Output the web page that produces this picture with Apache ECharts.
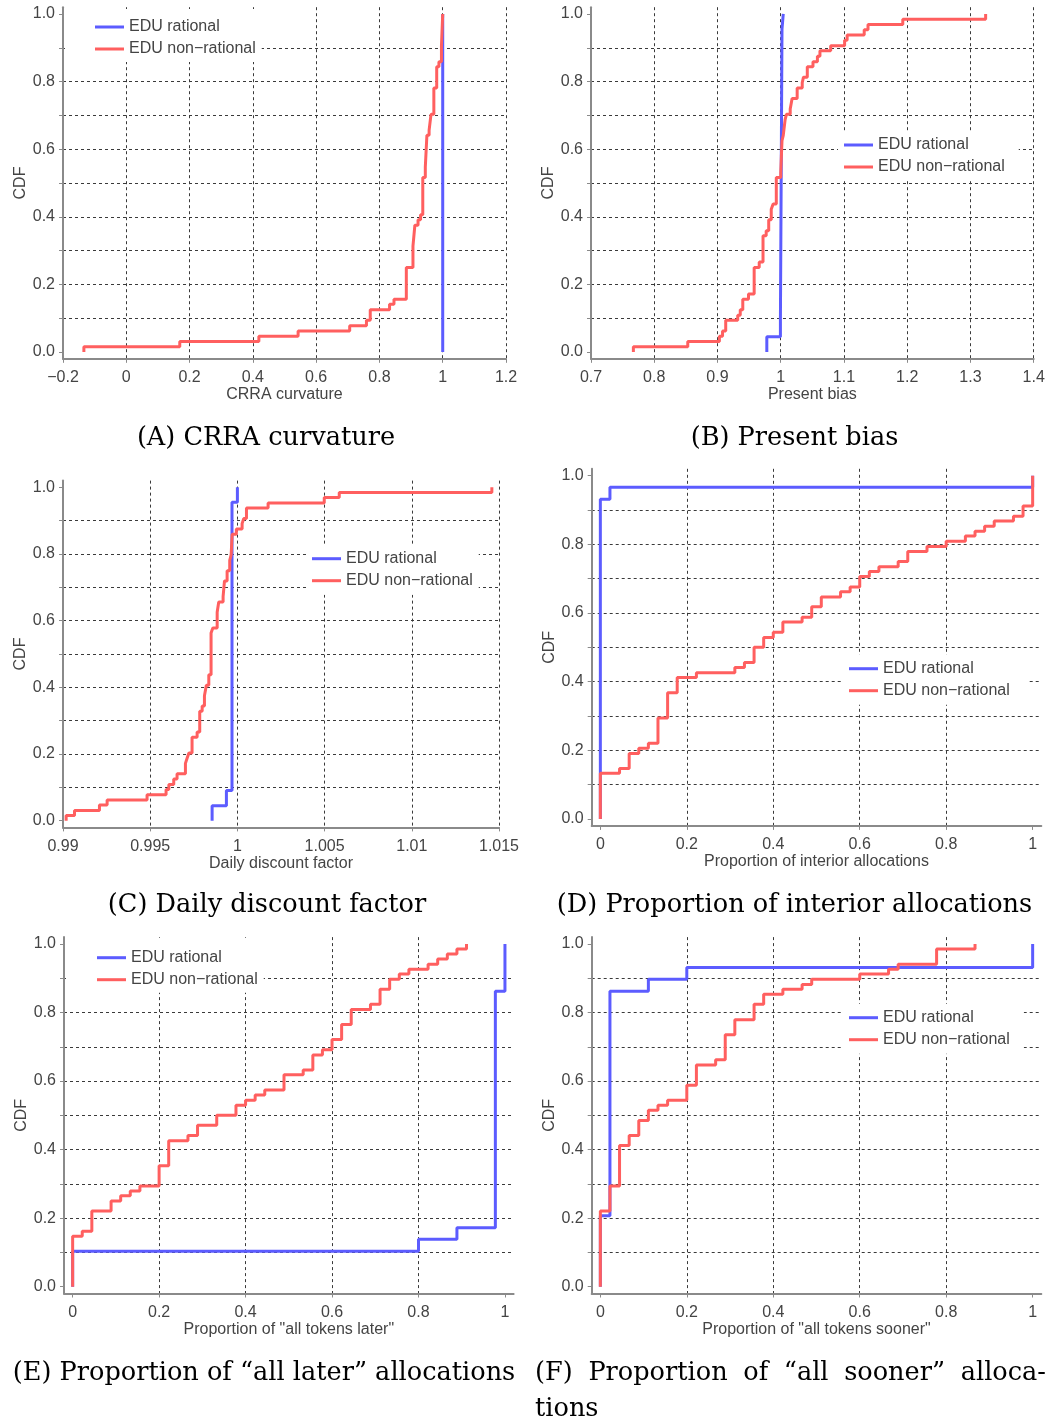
<!DOCTYPE html>
<html><head><meta charset="utf-8">
<script src="https://cdn.jsdelivr.net/npm/echarts@6/dist/echarts.min.js"></script>
<style>html,body{margin:0;padding:0;background:#fff}#c{width:1054px;height:1422px}</style>
</head><body><div id="c"></div>
<script>
// ---------------- DATA (ECDF jump points: [x, CDF after jump]) ----------------
const seriesNames = ['EDU rational', 'EDU non\u2212rational'];
const panelCaptions = ['(A) CRRA curvature', '(B) Present bias', '(C) Daily discount factor',
  '(D) Proportion of interior allocations', '(E) Proportion of \u201call later\u201d allocations'];
const captionF = ['(F)', 'Proportion', 'of', '\u201call', 'sooner\u201d', 'alloca-'];
const captionFTail = 'tions';
const xAxisNames = ['CRRA curvature', 'Present bias', 'Daily discount factor',
  'Proportion of interior allocations', 'Proportion of "all tokens later"', 'Proportion of "all tokens sooner"'];
const yLabelValues = [0, 0.2, 0.4, 0.6, 0.8, 1.0];
const yTickValues = [0, 0.1, 0.2, 0.3, 0.4, 0.5, 0.6, 0.7, 0.8, 0.9, 1.0];
const propLabelValues = [0, 0.2, 0.4, 0.6, 0.8, 1];

const crraRational = [[1.0, 1.0]];
const crraNonRational = [[-0.134,0.016],[0.169,0.031],[0.419,0.047],[0.543,0.062],[0.706,0.078],[0.759,0.094],
  [0.771,0.125],[0.832,0.141],[0.846,0.156],[0.885,0.250],[0.906,0.313],[0.912,0.375],[0.922,0.391],[0.930,0.406],
  [0.937,0.516],[0.945,0.547],[0.950,0.641],[0.957,0.656],[0.963,0.703],[0.972,0.781],[0.981,0.844],[0.988,0.859],
  [0.996,0.906],[1.0,1.0]];

const biasRational = [[0.978,0.045],[0.9995,0.091],[1.002,0.955],[1.004,1.0]];
const biasNonRational = [[0.767,0.016],[0.853,0.031],[0.903,0.047],[0.908,0.062],[0.913,0.094],[0.932,0.109],
  [0.936,0.125],[0.940,0.156],[0.949,0.172],[0.958,0.250],[0.966,0.266],[0.972,0.344],[0.977,0.359],[0.981,0.391],
  [0.985,0.422],[0.988,0.438],[0.993,0.516],[1.000,0.531],[1.002,0.625],[1.004,0.641],[1.007,0.688],[1.009,0.703],
  [1.015,0.719],[1.018,0.750],[1.026,0.781],[1.034,0.797],[1.036,0.813],[1.042,0.844],[1.051,0.859],[1.058,0.875],
  [1.062,0.891],[1.079,0.906],[1.101,0.922],[1.105,0.938],[1.132,0.953],[1.138,0.969],[1.193,0.984],[1.324,1.0]];

const discountRational = [[0.99855,0.045],[0.99937,0.091],[0.99969,0.955],[1.0,1.0]];
const discountNonRational = [[0.99018,0.016],[0.99066,0.031],[0.99209,0.047],[0.99253,0.062],[0.99482,0.078],
  [0.99591,0.094],[0.99607,0.109],[0.99635,0.125],[0.99654,0.141],[0.99702,0.172],[0.99712,0.188],[0.99722,0.203],
  [0.99740,0.250],[0.99769,0.266],[0.99784,0.328],[0.99798,0.344],[0.99811,0.375],[0.99822,0.406],[0.99836,0.438],
  [0.99849,0.563],[0.99859,0.578],[0.99884,0.625],[0.99893,0.656],[0.99918,0.672],[0.99926,0.719],[0.99941,0.750],
  [0.99956,0.781],[0.99964,0.797],[0.99970,0.859],[0.99994,0.875],[1.00027,0.891],[1.00036,0.906],[1.00052,0.938],
  [1.00176,0.953],[1.00498,0.969],[1.00584,0.984],[1.01459,1.0]];

const interiorRational = [[0,0.931],[0.0222,0.966],[1.0,1.0]];
const interiorNonRational = [[0,0.133],[0.0444,0.147],[0.0667,0.191],[0.0889,0.206],[0.1111,0.221],[0.1333,0.294],
  [0.1556,0.368],[0.1778,0.412],[0.2222,0.426],[0.3111,0.441],[0.3333,0.456],[0.3556,0.500],[0.3778,0.529],[0.4,0.544],
  [0.4222,0.574],[0.4667,0.588],[0.4889,0.618],[0.5111,0.647],[0.5556,0.662],[0.5778,0.676],[0.6,0.706],[0.6222,0.721],
  [0.6444,0.735],[0.6889,0.750],[0.7111,0.779],[0.7556,0.794],[0.8,0.809],[0.8444,0.824],[0.8667,0.838],[0.8889,0.853],
  [0.9111,0.868],[0.9556,0.882],[0.9778,0.912],[1.0,1.0]];

const laterRational = [[0,0.103],[0.8,0.138],[0.8889,0.172],[0.9778,0.862],[1.0,1.0]];
const laterNonRational = [[0,0.147],[0.0222,0.162],[0.0444,0.221],[0.0889,0.250],[0.1111,0.265],[0.1333,0.279],
  [0.1556,0.294],[0.2,0.353],[0.2222,0.426],[0.2667,0.441],[0.2889,0.471],[0.3333,0.5],[0.3778,0.529],[0.4,0.544],
  [0.4222,0.559],[0.4444,0.574],[0.4889,0.618],[0.5333,0.632],[0.5556,0.676],[0.5778,0.691],[0.6,0.721],[0.6222,0.765],
  [0.6444,0.809],[0.6889,0.824],[0.7111,0.868],[0.7333,0.897],[0.7556,0.912],[0.7778,0.926],[0.8222,0.941],
  [0.8444,0.956],[0.8667,0.971],[0.8889,0.985],[0.9111,1.0]];

const soonerRational = [[0,0.207],[0.0222,0.862],[0.1111,0.897],[0.2,0.931],[1.0,1.0]];
const soonerNonRational = [[0,0.221],[0.0222,0.294],[0.0444,0.412],[0.0667,0.441],[0.0889,0.485],[0.1111,0.515],
  [0.1333,0.529],[0.1556,0.544],[0.2,0.588],[0.2222,0.647],[0.2667,0.662],[0.2889,0.735],[0.3111,0.779],[0.3556,0.824],
  [0.3778,0.853],[0.4222,0.868],[0.4667,0.882],[0.4889,0.897],[0.6,0.912],[0.6667,0.926],[0.6889,0.941],[0.7778,0.985],
  [0.8667,1.0]];

// ---------------- LAYOUT / STYLE ----------------
const SANS = '"Liberation Sans", Arial, sans-serif';
const SERIF = '"DejaVu Serif", serif';
const BLUE = '#5c5cff', RED = '#ff5f5f';
const AXIS_COLOR = '#8a8a8a', TEXT_COLOR = '#444', GRID_COLOR = '#3a3a3a';

const panels = [
  {grid:{left:63, top:7.2, width:443, height:351.6}, x:{min:-0.2,max:1.2,interval:0.2,dec:1,minus:true},
   data:[crraRational, crraNonRational], legend:{left:65, top:9, padding:[10,6,5,30]}},
  {grid:{left:591, top:7.2, width:442.7, height:351.6}, x:{min:0.7,max:1.4,interval:0.1,dec:1},
   data:[biasRational, biasNonRational], legend:{left:838, top:131, padding:[6,14,6,6]}},
  {grid:{left:63, top:480.6, width:436, height:346.8}, x:{min:0.99,max:1.015,interval:0.005,dec:3},
   data:[discountRational, discountNonRational], legend:{left:306, top:544.7, padding:[6,6,6,6]}},
  {grid:{left:591.7, top:468.8, width:449.6, height:357.1}, x:{min:-0.02,max:1.02,prop:true,dec:1},
   data:[interiorRational, interiorNonRational], legend:{left:843, top:654.7, padding:[6,18,6,6]}},
  {grid:{left:64, top:937.1, width:449.6, height:356.4}, x:{min:-0.02,max:1.02,prop:true,dec:1},
   data:[laterRational, laterNonRational], legend:{left:66, top:937.7, padding:[12,6,5,31]}},
  {grid:{left:591.7, top:937.1, width:449.6, height:356.4}, x:{min:-0.02,max:1.02,prop:true,dec:1},
   data:[soonerRational, soonerNonRational], legend:{left:843, top:1003.7, padding:[6,14,6,6]}}
];

function ecdfLine(points) {
  return [[points[0][0], 0]].concat(points);
}

const grids = [], xAxes = [], yAxes = [], series = [], legends = [];
const dash = {color: GRID_COLOR, width: 1, type: [3, 3]};
const labelStyle = {color: TEXT_COLOR, fontSize: 16, fontFamily: SANS};

panels.forEach((p, i) => {
  grids.push(Object.assign({outerBoundsMode: 'none', containLabel: false}, p.grid));
  const xs = p.x;
  const xa = {
    type: 'value', gridIndex: i, min: xs.min, max: xs.max,
    axisLine: {show: true, onZero: false, lineStyle: {color: AXIS_COLOR, width: 2}},
    axisTick: {show: true, inside: false, length: 4, lineStyle: {color: AXIS_COLOR, width: 1}},
    axisLabel: Object.assign({margin: 11, formatter: v => {
      let s = String(+(+v).toFixed(xs.dec));
      return xs.minus ? s.replace('-', '\u2212') : s;
    }}, labelStyle),
    splitLine: {show: true, showMinLine: false, showMaxLine: !xs.prop, lineStyle: dash},
    name: xAxisNames[i], nameLocation: 'middle', nameGap: 26,
    nameTextStyle: {color: TEXT_COLOR, fontSize: 16, fontFamily: SANS}
  };
  if (xs.prop) {
    xa.splitNumber = 5;
    xa.axisLabel.customValues = propLabelValues;
    xa.axisTick.customValues = propLabelValues;
  } else {
    xa.interval = xs.interval;
  }
  xAxes.push(xa);
  yAxes.push({
    type: 'value', gridIndex: i, min: -0.02, max: 1.02, splitNumber: 10,
    axisLine: {show: true, onZero: false, lineStyle: {color: AXIS_COLOR, width: 2}},
    axisTick: {show: true, inside: false, length: 4, customValues: yTickValues, lineStyle: {color: AXIS_COLOR, width: 1}},
    axisLabel: Object.assign({margin: 8, customValues: yLabelValues, formatter: v => (+v).toFixed(1)}, labelStyle),
    splitLine: {show: true, showMinLine: false, showMaxLine: false, lineStyle: dash},
    name: 'CDF', nameLocation: 'middle', nameGap: 34,
    nameTextStyle: {color: TEXT_COLOR, fontSize: 16, fontFamily: SANS}
  });
  [BLUE, RED].forEach((col, k) => {
    series.push({
      type: 'line', name: seriesNames[k], xAxisIndex: i, yAxisIndex: i,
      data: ecdfLine(p.data[k]), step: 'end', symbol: 'none', showSymbol: false,
      lineStyle: {color: col, width: 3}, itemStyle: {color: col},
      silent: true, z: 3 + k, clip: false
    });
  });
  legends.push({
    show: true, left: p.legend.left, top: p.legend.top, padding: p.legend.padding,
    orient: 'vertical', icon: 'rect', itemWidth: 29, itemHeight: 3, itemGap: 6,
    backgroundColor: '#fff', selectedMode: false, data: seriesNames,
    textStyle: {fontSize: 16, color: TEXT_COLOR, fontFamily: SANS}, z: 10
  });
});

// captions
const capFont = '25.6px ' + SERIF;
const capPos = [[266, 438], [794.5, 438], [267, 905], [794.5, 905], [264, 1373]];
const graphics = panelCaptions.map((t, i) => ({
  type: 'text', x: capPos[i][0], y: capPos[i][1], silent: true,
  style: {text: t, font: capFont, fill: '#000', align: 'center', verticalAlign: 'middle'}
}));
// justified line for caption (F)
const mctx = document.createElement('canvas').getContext('2d');
mctx.font = capFont;
const fL = 535, fR = 1046;
const widths = captionF.map(w => mctx.measureText(w).width);
const totalW = widths.reduce((a, b) => a + b, 0);
const gap = (fR - fL - totalW) / (captionF.length - 1);
let cx = fL;
captionF.forEach((w, i) => {
  graphics.push({type: 'text', x: cx, y: 1373, silent: true,
    style: {text: w, font: capFont, fill: '#000', align: 'left', verticalAlign: 'middle'}});
  cx += widths[i] + gap;
});
graphics.push({type: 'text', x: fL, y: 1409, silent: true,
  style: {text: captionFTail, font: capFont, fill: '#000', align: 'left', verticalAlign: 'middle'}});

const chart = echarts.init(document.getElementById('c'), null, {renderer: 'canvas'});
chart.setOption({
  animation: false,
  backgroundColor: '#fff',
  grid: grids, xAxis: xAxes, yAxis: yAxes, series: series, legend: legends,
  graphic: graphics
});
</script></body></html>
